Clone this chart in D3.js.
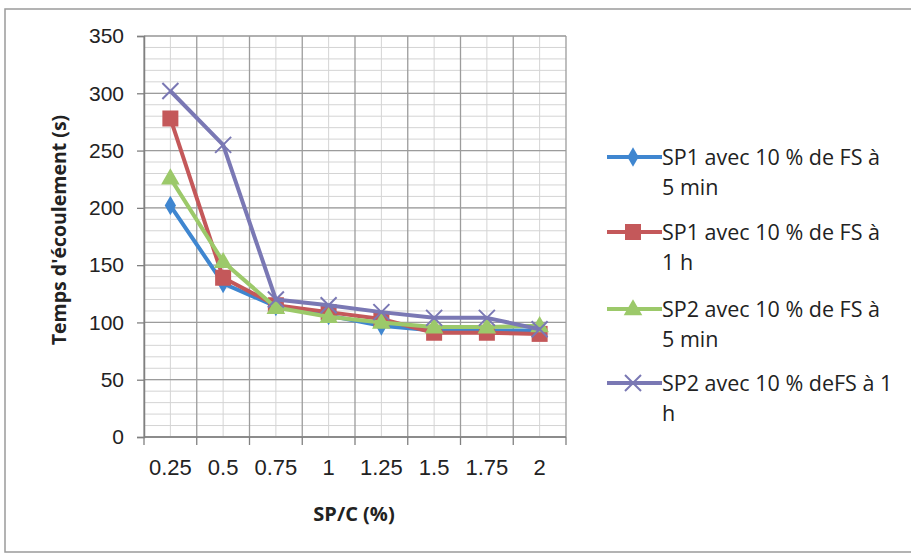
<html>
<head>
    <script src="https://d3js.org/d3.v7.min.js"></script>
    <style>
        body { margin: 0; background: #fff; }
    </style>
</head>
<body>
    <svg id="chart" width="911" height="556"></svg>
    <script>
        var categories = ["0.25", "0.5", "0.75", "1", "1.25", "1.5", "1.75", "2"];
        var sp1_5min = [202, 134, 114, 106, 97, 93, 93, 93];
        var sp1_1h = [278, 139, 115, 109, 103, 91, 91, 90];
        var sp2_5min = [226, 153, 113, 105, 100, 96, 96, 97];
        var sp2_1h = [302, 255, 120, 115, 109, 104, 104, 94];
        var seriesNames = [
            ["SP1 avec 10 % de FS à", "5 min"],
            ["SP1 avec 10 % de FS à", "1 h"],
            ["SP2 avec 10 % de FS à", "5 min"],
            ["SP2 avec 10 % deFS à 1", "h"]
        ];
        var yTicks = [0, 50, 100, 150, 200, 250, 300, 350];

        var series = [
            { name: seriesNames[0], values: sp1_5min, color: "#3f86d0", marker: "diamond" },
            { name: seriesNames[1], values: sp1_1h, color: "#c4585a", marker: "square" },
            { name: seriesNames[2], values: sp2_5min, color: "#9cc96a", marker: "triangle" },
            { name: seriesNames[3], values: sp2_1h, color: "#7a78b4", marker: "cross" }
        ];

        var svg = d3.select("#chart");

        // outer chart frame
        svg.append("rect")
            .attr("x", 5).attr("y", 9)
            .attr("width", 915).attr("height", 543)
            .attr("fill", "none").attr("stroke", "#9a9a9a").attr("stroke-width", 1.5);

        var pLeft = 144, pRight = 566, pTop = 36, pBottom = 437;

        var x = d3.scaleBand().domain(categories).range([pLeft, pRight]).padding(0);
        var y = d3.scaleLinear().domain([0, 350]).range([pBottom, pTop]);
        var cx = (d, i) => x(categories[i]) + x.bandwidth() / 2;

        // minor horizontal grid
        svg.append("g").selectAll("line")
            .data(d3.range(0, 351, 10))
            .enter().append("line")
            .attr("x1", pLeft).attr("x2", pRight)
            .attr("y1", d => y(d)).attr("y2", d => y(d))
            .attr("stroke", "#d4d4d4").attr("stroke-width", 1);

        // minor vertical grid at category centres
        svg.append("g").selectAll("line")
            .data(categories)
            .enter().append("line")
            .attr("x1", d => x(d) + x.bandwidth() / 2).attr("x2", d => x(d) + x.bandwidth() / 2)
            .attr("y1", pTop).attr("y2", pBottom)
            .attr("stroke", "#d4d4d4").attr("stroke-width", 1);

        // major horizontal grid
        svg.append("g").selectAll("line")
            .data(yTicks)
            .enter().append("line")
            .attr("x1", pLeft).attr("x2", pRight)
            .attr("y1", d => y(d)).attr("y2", d => y(d))
            .attr("stroke", "#9c9c9c").attr("stroke-width", 1.3);

        // major vertical grid at category boundaries
        var bounds = categories.map(d => x(d)).concat([pRight]);
        svg.append("g").selectAll("line")
            .data(bounds)
            .enter().append("line")
            .attr("x1", d => d).attr("x2", d => d)
            .attr("y1", pTop).attr("y2", pBottom)
            .attr("stroke", "#9c9c9c").attr("stroke-width", 1.3);

        // y axis
        var yAxis = svg.append("g")
            .attr("transform", "translate(" + pLeft + ",0)")
            .call(d3.axisLeft(y).tickValues(yTicks).tickSize(7).tickPadding(13));
        yAxis.select(".domain").attr("stroke", "#808080").attr("stroke-width", 1.5);
        yAxis.selectAll(".tick line").attr("stroke", "#808080").attr("stroke-width", 1.3);
        yAxis.selectAll("text")
            .attr("font-family", "Liberation Sans, Arial, sans-serif")
            .attr("font-size", 21).attr("fill", "#222");

        // x axis: ticks at category boundaries, labels at centres
        var xg = svg.append("g");
        xg.append("line")
            .attr("x1", pLeft).attr("x2", pRight)
            .attr("y1", pBottom).attr("y2", pBottom)
            .attr("stroke", "#808080").attr("stroke-width", 1.5);
        xg.selectAll(".tk")
            .data(bounds)
            .enter().append("line")
            .attr("x1", d => d).attr("x2", d => d)
            .attr("y1", pBottom).attr("y2", pBottom + 8)
            .attr("stroke", "#808080").attr("stroke-width", 1.3);
        xg.selectAll("text")
            .data(categories)
            .enter().append("text")
            .attr("x", d => x(d) + x.bandwidth() / 2)
            .attr("y", 475)
            .attr("text-anchor", "middle")
            .attr("font-family", "Liberation Sans, Arial, sans-serif")
            .attr("font-size", 22).attr("fill", "#222")
            .text(d => d);

        // axis titles
        svg.append("text")
            .attr("transform", "translate(66,230) rotate(-90)")
            .attr("text-anchor", "middle")
            .attr("font-family", "Open Sans, sans-serif")
            .attr("font-weight", "bold")
            .attr("font-size", 19.5).attr("fill", "#222")
            .text("Temps d'écoulement (s)");

        svg.append("text")
            .attr("x", 354).attr("y", 521)
            .attr("text-anchor", "middle")
            .attr("font-family", "Open Sans, sans-serif")
            .attr("font-weight", "bold")
            .attr("font-size", 20).attr("fill", "#222")
            .text("SP/C (%)");

        function drawMarker(g, type, color, px, py) {
            if (type === "diamond") {
                g.append("path")
                    .attr("d", d3.symbol().type(d3.symbolDiamond).size(110)())
                    .attr("transform", "translate(" + px + "," + py + ")")
                    .attr("fill", color);
            } else if (type === "square") {
                g.append("rect")
                    .attr("x", px - 8).attr("y", py - 8)
                    .attr("width", 16).attr("height", 16)
                    .attr("fill", color);
            } else if (type === "triangle") {
                g.append("path")
                    .attr("d", d3.symbol().type(d3.symbolTriangle).size(150)())
                    .attr("transform", "translate(" + px + "," + (py + 1) + ")")
                    .attr("fill", color);
            } else {
                g.append("path")
                    .attr("d", "M-8,-8L8,8M-8,8L8,-8")
                    .attr("transform", "translate(" + px + "," + py + ")")
                    .attr("stroke", color).attr("stroke-width", 2);
            }
        }

        var line = d3.line()
            .x((d, i) => cx(d, i))
            .y(d => y(d));

        series.forEach(function (s) {
            var g = svg.append("g");
            g.append("path")
                .datum(s.values)
                .attr("d", line)
                .attr("fill", "none")
                .attr("stroke", s.color)
                .attr("stroke-width", 4)
                .attr("stroke-linejoin", "round");
            s.values.forEach(function (v, i) {
                drawMarker(g, s.marker, s.color, cx(v, i), y(v));
            });
        });

        // legend
        var legendY = [157, 232, 309, 383];
        series.forEach(function (s, i) {
            var g = svg.append("g");
            var ly = legendY[i];
            g.append("line")
                .attr("x1", 607).attr("x2", 662)
                .attr("y1", ly).attr("y2", ly)
                .attr("stroke", s.color).attr("stroke-width", 4);
            drawMarker(g, s.marker, s.color, 633, ly);
            s.name.forEach(function (t, j) {
                g.append("text")
                    .attr("x", 662).attr("y", ly + 8 + j * 30)
                    .attr("font-family", "Open Sans, sans-serif")
                    .attr("font-size", 21.5).attr("fill", "#222")
                    .text(t);
            });
        });
    </script>
</body>
</html>
